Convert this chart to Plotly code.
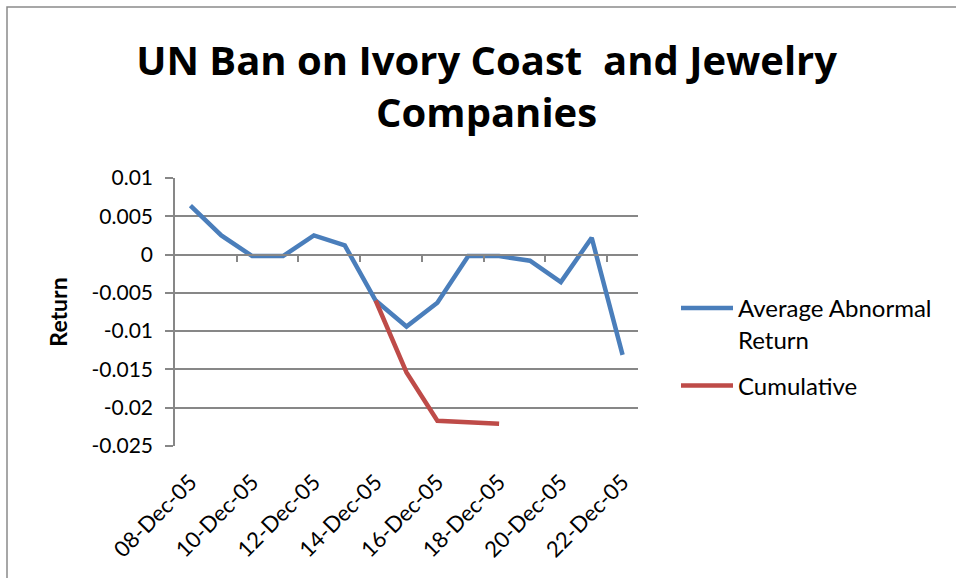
import plotly.graph_objects as go

# ---- data ----
dates = ["08-Dec-05", "09-Dec-05", "10-Dec-05", "11-Dec-05", "12-Dec-05",
         "13-Dec-05", "14-Dec-05", "15-Dec-05", "16-Dec-05", "17-Dec-05",
         "18-Dec-05", "19-Dec-05", "20-Dec-05", "21-Dec-05", "22-Dec-05"]
avg_abnormal = [0.0064, 0.0025, -0.0002, -0.0002, 0.0025, 0.0012, -0.0060,
                -0.0094, -0.0063, -0.0002, -0.0002, -0.0008, -0.0036, 0.0022, -0.0131]
cumulative = [None, None, None, None, None, None, -0.0060,
              -0.0154, -0.0217, -0.0219, -0.0221, None, None, None, None]
x_labels = dates[::2]
y_ticks = [0.01, 0.005, 0, -0.005, -0.01, -0.015, -0.02, -0.025]
y_tick_text = ["0.01", "0.005", "0", "-0.005", "-0.01", "-0.015", "-0.02", "-0.025"]
y_range = [-0.025, 0.01]

FONT = "Lato"
GRID = "#878787"
BLUE = "#4A7EBB"
RED = "#BE4B48"

W, H = 956, 578
L, R, T, B = 175, 318, 178, 132
PW, PH = W - L - R, H - T - B

fig = go.Figure()
fig.add_trace(go.Scatter(x=dates, y=avg_abnormal, mode="lines",
                         name="Average Abnormal<br>Return",
                         line=dict(color=BLUE, width=4.5), legendgroup="a"))
fig.add_trace(go.Scatter(x=dates, y=cumulative, mode="lines", name="Cumulative",
                         line=dict(color=RED, width=4.5), legendgroup="b",
                         connectgaps=False))
# invisible helper trace for the axis drawn through zero
fig.add_trace(go.Scatter(x=[0, len(dates) - 1], y=[None, None], xaxis="x2",
                         showlegend=False, hoverinfo="skip"))

n = len(dates)
zero_pos = (0 - y_range[0]) / (y_range[1] - y_range[0])

fig.update_layout(
    width=W, height=H,
    margin=dict(l=L, r=R, t=T, b=B),
    paper_bgcolor="white", plot_bgcolor="white",
    font=dict(family=FONT, color="black"),
    title=dict(text="<b>UN Ban on Ivory Coast  and Jewelry<br>Companies</b>",
               x=0.509, xanchor="center", xref="container",
               y=1 - 75 / H, yanchor="top", yref="container",
               font=dict(size=40, family="Open Sans", color="black")),
    xaxis=dict(type="category", categoryorder="array", categoryarray=dates,
               range=[-0.5, n - 0.5], tickmode="array", tickvals=x_labels,
               ticktext=x_labels, tickangle=-45, showgrid=False, showline=False,
               ticks="", zeroline=False, tickfont=dict(size=22, family=FONT),
               ticklabelstandoff=18),
    xaxis2=dict(overlaying="x", anchor="free", position=zero_pos,
                range=[-0.5, n - 0.5], tickmode="array",
                tickvals=[i + 0.5 for i in range(1, n - 1, 2)],
                ticks="outside", ticklen=7, tickwidth=1.5, tickcolor=GRID,
                showline=True, linecolor=GRID, linewidth=1.5,
                showticklabels=False, showgrid=False, zeroline=False),
    yaxis=dict(range=y_range, tickmode="array", tickvals=y_ticks, ticktext=y_tick_text,
               showgrid=True, gridcolor=GRID, gridwidth=1.5, zeroline=False,
               showline=True, linecolor=GRID, linewidth=1.5,
               ticks="outside", ticklen=8, tickwidth=1.5, tickcolor=GRID,
               tickfont=dict(size=21, family=FONT), ticklabelstandoff=8,
               title=dict(text="<b>Return</b>", font=dict(size=23, family=FONT),
                          standoff=18)),
    legend=dict(x=(676 - L) / PW, y=(446 - 286) / PH,
                xanchor="left", yanchor="top", valign="top", itemwidth=52,
                font=dict(size=24, family=FONT), tracegroupgap=12,
                bgcolor="rgba(0,0,0,0)"),
    showlegend=True,
    shapes=[dict(type="rect", xref="paper", yref="paper",
                 x0=(7 - L) / PW, x1=2.0,
                 y0=-1.0, y1=(H - B - 7) / PH,
                 line=dict(color="#8A8A8A", width=1.5), layer="below")],
)

fig.write_html("out.html")
